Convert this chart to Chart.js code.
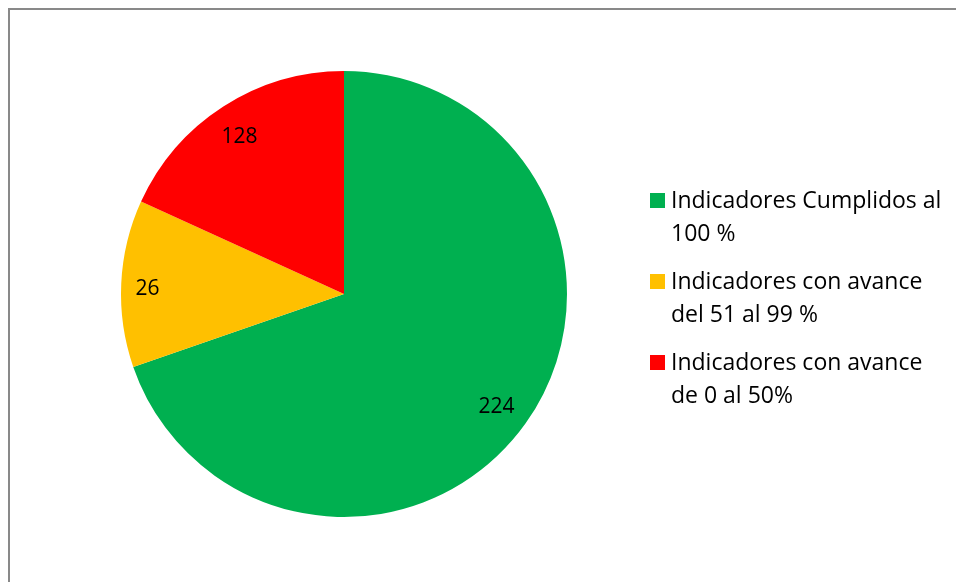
<!DOCTYPE html>
<html>
<head>
<meta charset="utf-8">
<script src="https://cdn.jsdelivr.net/npm/chart.js@4.4.1/dist/chart.umd.min.js"></script>
<style>
  html, body { margin: 0; padding: 0; background: #ffffff; }
  #wrap { position: relative; width: 956px; height: 582px; overflow: hidden; background: #fff; }
  #frame { position: absolute; left: 8px; top: 8px; width: 2000px; height: 2000px;
           border-left: 2px solid #898989; border-top: 2px solid #898989; box-sizing: border-box; }
  canvas { position: absolute; left: 0; top: 0; }
</style>
</head>
<body>
<div id="wrap">
  <div id="frame"></div>
  <canvas id="c" width="956" height="582"></canvas>
</div>
<script>
// Categories (legend entries)
const categories = [
  'Indicadores Cumplidos al 100 %',
  'Indicadores con avance del 51 al 99 %',
  'Indicadores con avance de 0 al 50%'
];
// Slice shares as drawn in the picture (percent of the circle)
const sliceShares = [69.7, 12.1, 18.2];
// Data labels printed on the slices
const dataLabels = ['224', '26', '128'];
// Slice colours
const sliceColors = ['#00B050', '#FFC000', '#FF0000'];

const FONT_FAMILY = '"Open Sans", Lato, "Liberation Sans", sans-serif';

const sliceLabelPlugin = {
  id: 'sliceLabels',
  afterDatasetsDraw(chart) {
    const ctx = chart.ctx;
    const meta = chart.getDatasetMeta(0);
    ctx.save();
    ctx.font = '21px ' + FONT_FAMILY;
    ctx.fillStyle = '#000000';
    ctx.textAlign = 'center';
    ctx.textBaseline = 'alphabetic';
    const margin = 15;
    meta.data.forEach((arc, i) => {
      const p = arc.getProps(['x', 'y', 'startAngle', 'endAngle', 'outerRadius'], true);
      const mid = (p.startAngle + p.endAngle) / 2;
      const ux = Math.cos(mid), uy = Math.sin(mid);
      const txt = dataLabels[i];
      const hw = ctx.measureText(txt).width / 2;
      const hh = 8.5;
      const ext = hw * Math.abs(ux) + hh * Math.abs(uy);
      const d = p.outerRadius - margin - ext;
      ctx.fillText(txt, p.x + ux * d - 1, p.y + uy * d + 10);
    });
    ctx.restore();
  }
};

const legendPlugin = {
  id: 'wrapLegend',
  afterDraw(chart) {
    const ctx = chart.ctx;
    ctx.save();
    ctx.font = '23px ' + FONT_FAMILY;
    ctx.textBaseline = 'alphabetic';
    ctx.textAlign = 'left';
    const boxX = 650, box = 15, textX = 671, maxW = 280;
    const firstTop = 193, itemGap = 81, lineH = 33;
    chart.data.labels.forEach((lab, i) => {
      const top = firstTop + i * itemGap;
      ctx.fillStyle = chart.data.datasets[0].backgroundColor[i];
      ctx.fillRect(boxX, top, box, box);
      // word wrap
      const words = lab.split(' ');
      const lines = [];
      let cur = '';
      words.forEach(w => {
        const test = cur ? cur + ' ' + w : w;
        if (ctx.measureText(test).width > maxW && cur) { lines.push(cur); cur = w; }
        else cur = test;
      });
      if (cur) lines.push(cur);
      ctx.fillStyle = '#000000';
      lines.forEach((ln, j) => ctx.fillText(ln, textX, top + 15 + j * lineH));
    });
    ctx.restore();
  }
};

new Chart(document.getElementById('c'), {
  type: 'pie',
  data: {
    labels: categories,
    datasets: [{
      data: sliceShares,
      backgroundColor: sliceColors,
      borderWidth: 0
    }]
  },
  options: {
    responsive: false,
    animation: false,
    layout: { padding: { left: 121, right: 389, top: 71, bottom: 65 } },
    plugins: {
      legend: { display: false },
      tooltip: { enabled: false }
    }
  },
  plugins: [sliceLabelPlugin, legendPlugin]
});
</script>
</body>
</html>
